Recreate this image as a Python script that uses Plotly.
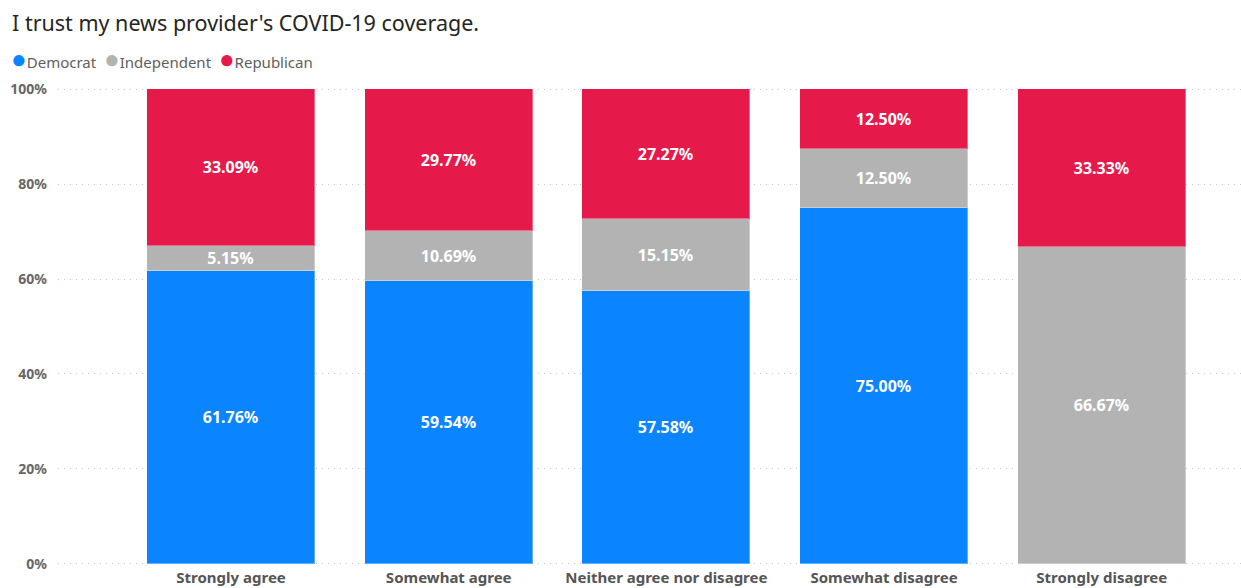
import plotly.graph_objects as go

categories = ["Strongly agree", "Somewhat agree", "Neither agree nor disagree",
              "Somewhat disagree", "Strongly disagree"]
democrat = [61.76, 59.54, 57.58, 75.00, 0.0]
independent = [5.15, 10.69, 15.15, 12.50, 66.67]
republican = [33.09, 29.77, 27.27, 12.50, 33.33]
y_ticks = [0, 20, 40, 60, 80, 100]
y_tick_labels = ["0%", "20%", "40%", "60%", "80%", "100%"]

series = [
    ("Democrat", democrat, "#0A84FF"),
    ("Independent", independent, "#B3B3B3"),
    ("Republican", republican, "#E6194B"),
]

FONT = "Noto Sans"
PAD = 0.5  # small headroom so the 0% and 100% grid lines stay visible
PLOT_W = 1241 - 58
PLOT_H = 475 * (100 + 2 * PAD) / 100
TOP = 89 - 475 * PAD / 100

fig = go.Figure()
for name, vals, color in series:
    fig.add_trace(go.Bar(
        x=categories,
        y=vals,
        name=name,
        marker=dict(color=color, line=dict(color="rgba(255,255,255,0.35)", width=1)),
        text=[f"<b>{v:.2f}%</b>" if v > 0 else "" for v in vals],
        textposition="inside",
        insidetextanchor="middle",
        textangle=0,
        textfont=dict(family=FONT, size=16, color="white"),
        constraintext="none",
        cliponaxis=False,
        width=0.772,
        showlegend=False,
        hoverinfo="skip",
    ))

# legend line built from coloured dots and party names
legend_html = "&nbsp;&nbsp;".join(
    f'<span style="color:{c};font-size:26px">●</span><span style="color:#605E5C">{n}</span>'
    for n, _, c in series
)

fig.update_layout(
    barmode="stack",
    width=1241,
    height=588,
    margin=dict(l=58, r=0, t=TOP, b=588 - TOP - PLOT_H),
    paper_bgcolor="white",
    plot_bgcolor="white",
    bargap=0,
    uniformtext=dict(minsize=16, mode="show"),
    font=dict(family=FONT),
    xaxis=dict(
        range=[-0.795, 4.64],
        showgrid=False,
        showline=False,
        zeroline=False,
        tickfont=dict(family=FONT, size=15, color="#555555"),
        tickprefix="<b>", ticksuffix="</b>",
        ticks="", ticklabelstandoff=1,
    ),
    yaxis=dict(
        range=[-PAD, 100 + PAD],
        tickvals=y_ticks,
        ticktext=[f"<b>{t}</b>" for t in y_tick_labels],
        tickfont=dict(family=FONT, size=14, color="#666666"),
        showgrid=True,
        gridcolor="#C8C8C8",
        griddash="1px,5px",
        gridwidth=1,
        zeroline=False,
        showline=False,
        ticks="",
        ticklabelstandoff=10,
    ),
    annotations=[
        dict(text="I trust my news provider's COVID-19 coverage.",
             xref="paper", yref="paper", x=(10 - 58) / PLOT_W, y=1 + (TOP - 22) / PLOT_H,
             xanchor="left", yanchor="middle", showarrow=False,
             font=dict(family=FONT, size=21.5, color="#252423")),
        dict(text=legend_html,
             xref="paper", yref="paper", x=(9 - 58) / PLOT_W, y=1 + (TOP - 58) / PLOT_H,
             xanchor="left", yanchor="middle", showarrow=False,
             font=dict(family=FONT, size=15, color="#605E5C")),
    ],
)

fig.write_html("out.html")
